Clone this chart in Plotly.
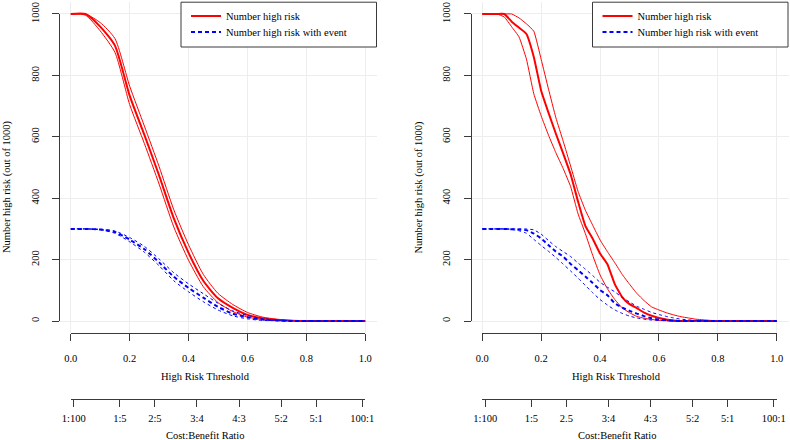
import plotly.graph_objects as go

# ---------------- data ----------------
thr_left = [0.0, 0.05, 0.10, 0.15, 0.20, 0.25, 0.30, 0.35, 0.40, 0.45, 0.50,
            0.55, 0.60, 0.65, 0.70, 0.75, 0.80, 0.85, 0.90, 0.95, 1.0]
left_high_risk    = [1000, 1000, 959, 897, 734, 606, 474, 334, 222, 131, 74, 43, 20, 9, 3, 1, 0, 0, 0, 0, 0]
left_high_risk_hi = [1000, 1000, 972, 920, 765, 635, 503, 362, 248, 152, 90, 54, 28, 13, 6, 2, 0, 0, 0, 0, 0]
left_high_risk_lo = [1000, 996, 945, 875, 705, 578, 446, 306, 198, 112, 60, 31, 13, 5, 2, 0, 0, 0, 0, 0, 0]
left_event        = [300, 300, 298, 290, 265, 234, 191, 144, 108, 76, 46, 24, 12, 5, 2, 0, 0, 0, 0, 0, 0]
left_event_hi     = [300, 300, 299, 293, 272, 243, 202, 157, 121, 89, 58, 33, 18, 8, 3, 1, 0, 0, 0, 0, 0]
left_event_lo     = [300, 300, 297, 286, 258, 224, 180, 131, 95, 63, 36, 17, 7, 2, 1, 0, 0, 0, 0, 0, 0]

thr_right = [0.0, 0.025, 0.05, 0.075, 0.10, 0.125, 0.15, 0.175, 0.20, 0.225,
             0.25, 0.275, 0.30, 0.325, 0.35, 0.375, 0.40, 0.425, 0.45, 0.475,
             0.50, 0.525, 0.55, 0.575, 0.60, 0.625, 0.65, 0.675, 0.70, 0.725,
             0.75, 0.775, 0.80, 0.825, 0.85, 0.875, 0.90, 0.925, 0.95, 0.975, 1.0]
right_high_risk = [1000, 1000, 1000, 1000, 975, 955, 935, 860, 750, 678,
                   610, 545, 478, 390, 310, 268, 220, 185, 120, 78,
                   55, 42, 27, 17, 10, 5, 2, 0, 0, 0,
                   0, 0, 0, 0, 0, 0, 0, 0, 0, 0, 0]
right_high_risk_hi = [1000, 1000, 1000, 1000, 1000, 987, 968, 944, 852, 755,
                      662, 585, 505, 423, 361, 312, 264, 226, 190, 152,
                      120, 90, 66, 46, 36, 27, 20, 14, 10, 6,
                      4, 2, 1, 0, 0, 0, 0, 0, 0, 0, 0]
right_high_risk_lo = [1000, 1000, 1000, 990, 958, 925, 853, 740, 668, 605,
                      548, 496, 438, 350, 285, 214, 150, 105, 70, 43,
                      27, 15, 9, 5, 2, 1, 0, 0, 0, 0,
                      0, 0, 0, 0, 0, 0, 0, 0, 0, 0, 0]
right_event = [300, 300, 300, 300, 299, 298, 296, 285, 269, 247,
               226, 210, 186, 166, 145, 124, 101, 84, 58, 44,
               33, 24, 16, 9, 5, 3, 1, 0, 0, 0,
               0, 0, 0, 0, 0, 0, 0, 0, 0, 0, 0]
right_event_hi = [300, 300, 300, 300, 300, 300, 300, 297, 283, 262,
                  242, 226, 210, 189, 169, 148, 126, 110, 95, 77,
                  62, 48, 38, 28, 21, 15, 10, 6, 4, 2,
                  1, 0, 0, 0, 0, 0, 0, 0, 0, 0, 0]
right_event_lo = [300, 300, 300, 300, 298, 294, 286, 266, 246, 227,
                  207, 185, 163, 140, 116, 92, 70, 52, 36, 25,
                  16, 10, 6, 3, 2, 1, 0, 0, 0, 0,
                  0, 0, 0, 0, 0, 0, 0, 0, 0, 0, 0]

threshold_ticks = [0.0, 0.2, 0.4, 0.6, 0.8, 1.0]
threshold_labels = ["0.0", "0.2", "0.4", "0.6", "0.8", "1.0"]
count_ticks = [0, 200, 400, 600, 800, 1000]
cb_cost = [1, 1, 2, 3, 4, 5, 5, 100]
cb_benefit = [100, 5, 5, 4, 3, 2, 1, 1]
cb_labels_left = ["1:100", "1:5", "2:5", "3:4", "4:3", "5:2", "5:1", "100:1"]
cb_labels_right = ["1:100", "1:5", "2.5", "3:4", "4:3", "5:2", "5:1", "100:1"]

series_name_risk = "Number high risk"
series_name_event = "Number high risk with event"

# ---------------- layout geometry ----------------
W, H = 790, 440
FONT = "Liberation Serif, Times New Roman, serif"
FS = 10.5
TOP, BOT = 1.7, 333.3
PANELS = [(59.0, 377.0), (470.5, 788.5)]
XR = [-0.04, 1.04]
YR = [-40, 1040]
CB_AXIS_Y = 399
GRID = "#EDEDED"
AXC = "#3a3a3a"
RED = "#FF0000"
BLUE = "#0000FF"


def fx(px):
    return px / W


def fy(py):
    return 1 - py / H


panel_data = [
    (thr_left, left_high_risk, left_high_risk_hi, left_high_risk_lo,
     left_event, left_event_hi, left_event_lo, cb_labels_left, 0.6),
    (thr_right, right_high_risk, right_high_risk_hi, right_high_risk_lo,
     right_event, right_event_hi, right_event_lo, cb_labels_right, 0.35),
]

fig = go.Figure()
tfont = dict(family=FONT, size=FS, color="black")
layout = dict(
    template="none",
    width=W, height=H,
    margin=dict(l=0, r=0, t=0, b=0, pad=0, autoexpand=False),
    paper_bgcolor="white", plot_bgcolor="rgba(0,0,0,0)",
    font=tfont,
    showlegend=True,
    shapes=[], annotations=[],
)

cb_ticks = [c / (c + b) for c, b in zip(cb_cost, cb_benefit)]

for i, (pl, pr) in enumerate(PANELS):
    thr, hr, hr_hi, hr_lo, ev, ev_hi, ev_lo, cb_labels, sm = panel_data[i]
    k = i + 1
    xa, ya = ("x" if k == 1 else f"x{k}"), ("y" if k == 1 else f"y{k}")
    leg_r = "legend" if k == 1 else f"legend{k}"
    leg_b = f"legend{k + 2}"
    common = dict(xaxis=xa, yaxis=ya, mode="lines", hoverinfo="skip")
    # confidence bands (thin) then main curves (thick)
    for yy in (hr_hi, hr_lo):
        fig.add_trace(go.Scatter(x=thr, y=yy, line=dict(color=RED, width=1, shape="spline", smoothing=sm),
                                 showlegend=False, **common))
    fig.add_trace(go.Scatter(x=thr, y=hr, name=series_name_risk, legend=leg_r,
                             line=dict(color=RED, width=2, shape="spline", smoothing=sm), **common))
    for yy in (ev_hi, ev_lo):
        fig.add_trace(go.Scatter(x=thr, y=yy, line=dict(color=BLUE, width=1, dash="3px,3px", shape="spline", smoothing=sm),
                                 showlegend=False, **common))
    fig.add_trace(go.Scatter(x=thr, y=ev, name=series_name_event, legend=leg_b,
                             line=dict(color=BLUE, width=2, dash="4px,3px", shape="spline", smoothing=sm), **common))

    # main (grid) axes covering the plotting region
    layout["xaxis" if k == 1 else f"xaxis{k}"] = dict(
        domain=[fx(pl), fx(pr)], range=XR, anchor=ya, showgrid=True, gridcolor=GRID, gridwidth=1,
        tickvals=threshold_ticks, showticklabels=False, ticks="", zeroline=False, showline=False,
        automargin=False)
    layout["yaxis" if k == 1 else f"yaxis{k}"] = dict(
        domain=[fy(BOT), fy(TOP)], range=YR, anchor=xa, showgrid=True, gridcolor=GRID, gridwidth=1,
        tickvals=count_ticks, showticklabels=False, ticks="", zeroline=False, showline=False,
        automargin=False)

    # R-style axes spanning only the data range
    span = lambda v: pl + (v - XR[0]) / (XR[1] - XR[0]) * (pr - pl)
    vspan = lambda v: TOP + (YR[1] - v) / (YR[1] - YR[0]) * (BOT - TOP)
    fxa, fya, cba = f"x{k + 2}", f"y{k + 2}", f"x{k + 4}"
    layout[f"xaxis{k + 2}"] = dict(
        domain=[fx(span(0)), fx(span(1))], range=[0, 1], anchor="free", position=fy(BOT),
        showline=True, linecolor=AXC, linewidth=1, ticks="outside", ticklen=7, tickcolor=AXC,
        tickvals=threshold_ticks, ticktext=threshold_labels, showgrid=False, zeroline=False,
        ticklabelstandoff=8, tickfont=tfont, automargin=False)
    layout[f"yaxis{k + 2}"] = dict(
        domain=[fy(vspan(0)), fy(vspan(1000))], range=[0, 1000], anchor="free", position=fx(pl),
        side="left", showline=True, linecolor=AXC, linewidth=1, ticks="outside", ticklen=7, tickcolor=AXC,
        tickvals=count_ticks, ticktext=[str(v) for v in count_ticks], tickangle=-90,
        showgrid=False, zeroline=False, ticklabelstandoff=9, tickfont=tfont, automargin=False)
    layout[f"xaxis{k + 4}"] = dict(
        domain=[fx(span(0)), fx(span(1))], range=[0, 1], anchor="free", position=fy(CB_AXIS_Y),
        showline=True, linecolor=AXC, linewidth=1, ticks="outside", ticklen=7, tickcolor=AXC,
        tickvals=cb_ticks, ticktext=cb_labels, showgrid=False, zeroline=False,
        ticklabelstandoff=2, tickfont=tfont, automargin=False)
    fig.add_trace(go.Scatter(x=[], y=[], xaxis=fxa, yaxis=fya, showlegend=False, hoverinfo="skip"))
    fig.add_trace(go.Scatter(x=[], y=[], xaxis=cba, yaxis=fya, showlegend=False, hoverinfo="skip"))

    # legend box and its two entries
    layout["shapes"].append(dict(type="rect", xref="paper", yref="paper",
                                 x0=fx(pl + 122), x1=fx(pr - 0.5), y0=fy(47), y1=fy(TOP + 0.5),
                                 line=dict(color=AXC, width=1), fillcolor="white", layer="above"))
    for lg, ycen in ((leg_r, 16), (leg_b, 32)):
        layout[lg] = dict(x=fx(pl + 127), y=fy(ycen), xanchor="left", yanchor="middle",
                          bgcolor="rgba(0,0,0,0)", borderwidth=0, font=tfont)

    # axis titles
    layout["annotations"] += [
        dict(text="High Risk Threshold", x=fx(pl + 146), y=fy(376), xref="paper", yref="paper",
             showarrow=False, xanchor="center", yanchor="middle", font=tfont),
        dict(text="Cost:Benefit Ratio", x=fx(pl + 146), y=fy(435.5), xref="paper", yref="paper",
             showarrow=False, xanchor="center", yanchor="middle", font=tfont),
        dict(text="Number high risk (out of 1000)", x=fx(pl - 52), y=fy(187), xref="paper", yref="paper",
             showarrow=False, textangle=-90, xanchor="center", yanchor="middle", font=tfont),
    ]

fig.update_layout(**layout)
fig.write_html(
    "out.html",
    config={"displayModeBar": False},
    post_script="document.body.style.margin='0px';document.body.style.padding='0px';",
)
